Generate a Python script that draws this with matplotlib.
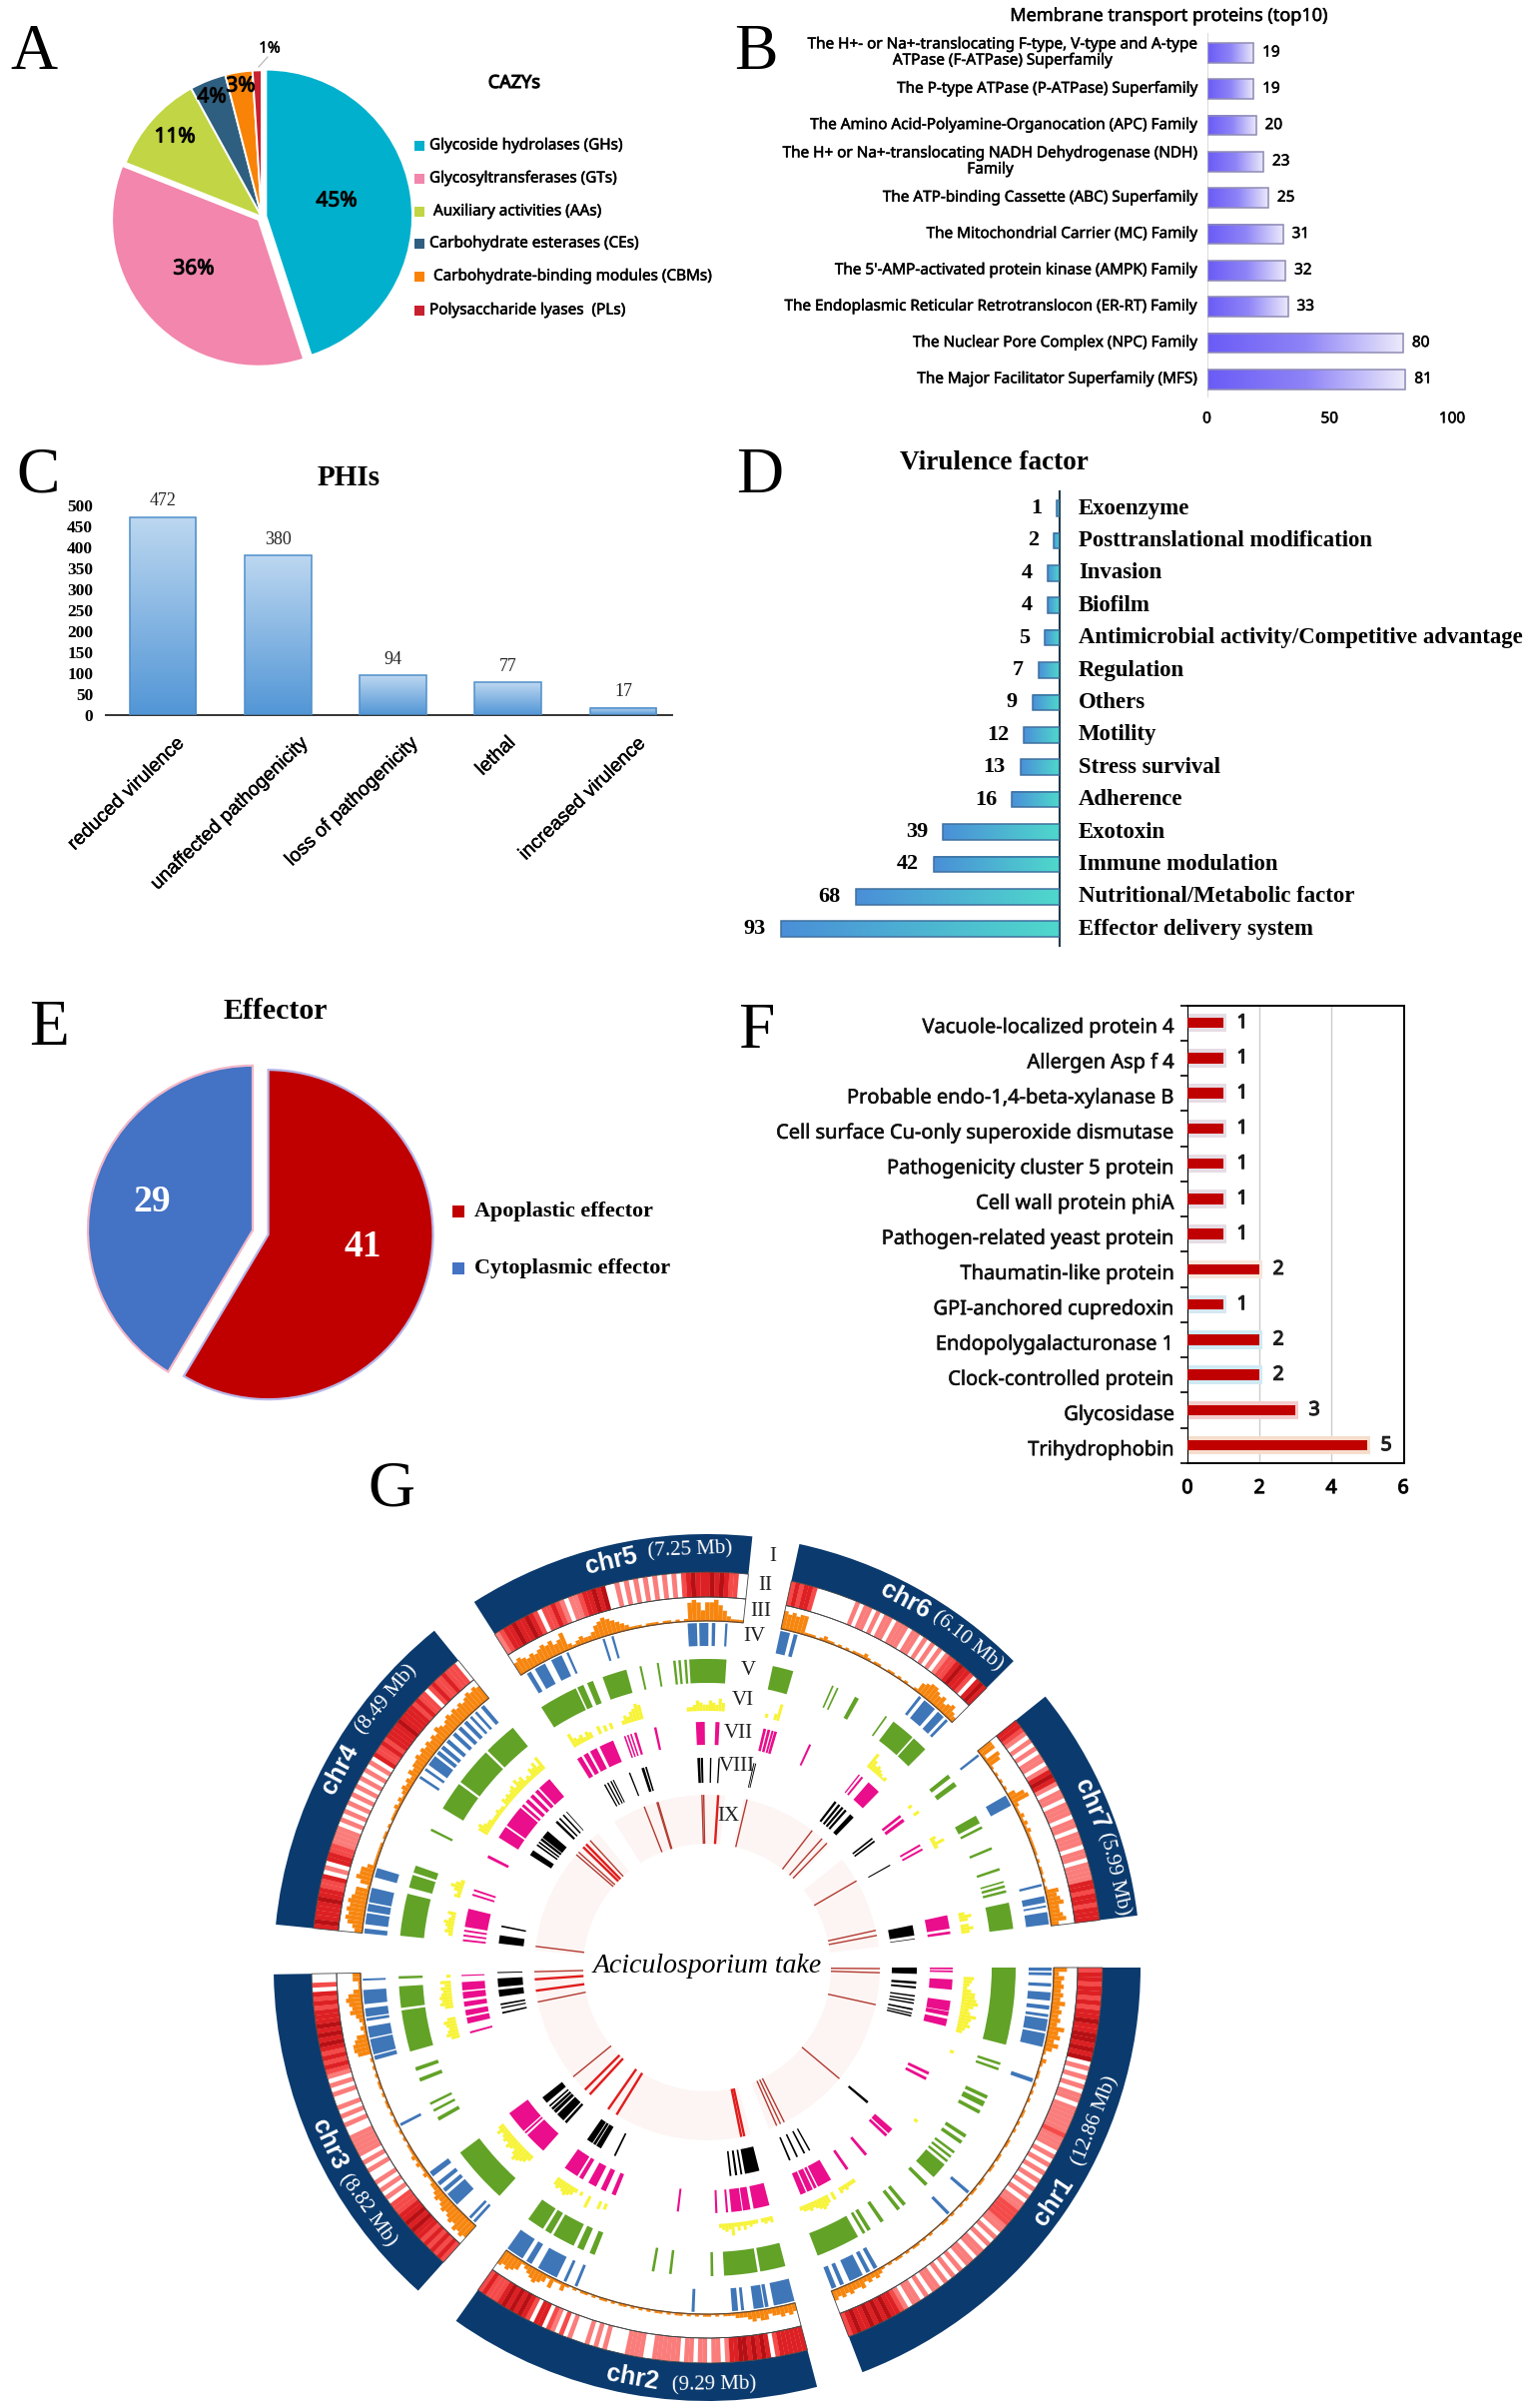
import numpy as np
import matplotlib
matplotlib.use("Agg")
import matplotlib.pyplot as plt
import matplotlib.patheffects as pe
from matplotlib.collections import LineCollection, PatchCollection
from matplotlib.colors import LinearSegmentedColormap
from matplotlib.patches import Rectangle, Wedge

W, H = 1535, 2411
SANS = "Noto Sans"
SERIF = "Liberation Serif"
ARIAL = "Liberation Sans"
# Noto Sans only comes in one weight here, thicken it with a stroke
SEMI = [pe.withStroke(linewidth=.4, foreground="#111111")]
BOLD = [pe.withStroke(linewidth=.8, foreground="#111111")]

# panel A
CAZY_NAMES = ["Glycoside hydrolases (GHs)", "Glycosyltransferases (GTs)", "Auxiliary activities (AAs)",
              "Carbohydrate esterases (CEs)", "Carbohydrate-binding modules (CBMs)", "Polysaccharide lyases  (PLs)"]
CAZY_PCT = [45, 36, 11, 4, 3, 1]
CAZY_COLORS = ["#00b0cc", "#f286ac", "#c2d544", "#2f5f80", "#f98306", "#c8202f"]

# panel B
MEMBRANE_NAMES = ["The H+- or Na+-translocating F-type, V-type and A-type\nATPase (F-ATPase) Superfamily",
                  "The P-type ATPase (P-ATPase) Superfamily",
                  "The Amino Acid-Polyamine-Organocation (APC) Family",
                  "The H+ or Na+-translocating NADH Dehydrogenase (NDH)\nFamily",
                  "The ATP-binding Cassette (ABC) Superfamily",
                  "The Mitochondrial Carrier (MC) Family",
                  "The 5'-AMP-activated protein kinase (AMPK) Family",
                  "The Endoplasmic Reticular Retrotranslocon (ER-RT) Family",
                  "The Nuclear Pore Complex (NPC) Family",
                  "The Major Facilitator Superfamily (MFS)"]
MEMBRANE_VALUES = [19, 19, 20, 23, 25, 31, 32, 33, 80, 81]

# panel C
PHI_NAMES = ["reduced virulence", "unaffected pathogenicity", "loss of pathogenicity", "lethal", "increased virulence"]
PHI_VALUES = [472, 380, 94, 77, 17]

# panel D
VIR_NAMES = ["Exoenzyme", "Posttranslational modification", "Invasion", "Biofilm",
             "Antimicrobial activity/Competitive advantage", "Regulation", "Others", "Motility",
             "Stress survival", "Adherence", "Exotoxin", "Immune modulation",
             "Nutritional/Metabolic factor", "Effector delivery system"]
VIR_VALUES = [1, 2, 4, 4, 5, 7, 9, 12, 13, 16, 39, 42, 68, 93]

# panel E
EFFECTOR_NAMES = ["Apoplastic effector", "Cytoplasmic effector"]
EFFECTOR_VALUES = [41, 29]

# panel F
PROTEIN_NAMES = ["Vacuole-localized protein 4", "Allergen Asp f 4", "Probable endo-1,4-beta-xylanase B",
                 "Cell surface Cu-only superoxide dismutase", "Pathogenicity cluster 5 protein",
                 "Cell wall protein phiA", "Pathogen-related yeast protein", "Thaumatin-like protein",
                 "GPI-anchored cupredoxin", "Endopolygalacturonase 1", "Clock-controlled protein",
                 "Glycosidase", "Trihydrophobin"]
PROTEIN_VALUES = [1, 1, 1, 1, 1, 1, 1, 2, 1, 2, 2, 3, 5]

# panel G, positions are percent along each chromosome
CHR_NAMES = ["chr1", "chr2", "chr3", "chr4", "chr5", "chr6", "chr7"]
CHR_SIZES = ["(12.86 Mb)", "(9.29 Mb)", "(8.82 Mb)", "(8.49 Mb)", "(7.25 Mb)", "(6.10 Mb)", "(5.99 Mb)"]
CHR_START = [0, 75.3, 131.8, 185.7, 237.5, 282.3, 321.3]
CHR_END = [69, 125.4, 179.1, 231, 276, 315, 353.1]

# heat level per bin: 0 white, 1 salmon, 2 red, 3 deep red, 4 darkest
HEAT = ["23323323233433443434" "01010101101" "111112111" "01010101010101" "122221"
        "101010110110101010110101101" "2334343433432",
        "3333332" "0" "343434433" "1011011011011" "1111" "00" "1111" "0000" "10101" "000" "1" "0"
        "201203302" "3434343" "22232",
        "23232323343433222" "010101001010111110010101001010" "1232323434343332323" "0200",
        "343333433223" "010" "3322" "1111" "01010101010101010" "322323333433332322" "0" "2322322" "20",
        "12" "33433432" "0" "22321" "0" "11233434" "00" "10101010101010" "23433343432" "200",
        "232332" "000000000" "101101011011101101010101" "2234332" "0" "343",
        "3321010101101343" "1011011101101110" "1101111332332333"]

ORANGE = ["52434343534343645353" "1021011010" "1010011010" "1001100110" "1100110110" "1010010110"
          "0010101101" "0110101" "2323243343434",
          "343433244343222" "1110101101" "0101101011" "0101010110" "10110101" "10101" "3" "1" "1" "4" "1"
          "3454321" "45656",
          "676756545434322" "1121121211" "1010101101" "0110101101" "01010" "56654" "1212" "354565" "3" "1133",
          "34676767655" "1" "46553" "11111101101011" "1212123232" "4344545454" "5465456565" "6567676",
          "565454" "565645" "7" "21232" "235676543" "211101110110101" "787477864" "2111",
          "767677" "1" "1101211010" "1011121011" "0011010100" "1" "456654534532",
          "66165" "10101010" "3672" "112121211111101011010" "1" "545644563"]

YELLOW = ["000" "543246678645865643" "000000" "2" "000000000000000000000000" "2"
          "000000000000000000000000000" "22232300404565434332",
          "323202" "232424263432" "00000000000000000000000000000000000000" "3" "0" "4" "000" "6" "00" "2" "0"
          "24565454",
          "0" "356786456454353" "00000000000000000000000000000000" "4654564" "000" "465654535" "0" "2" "0",
          "00" "24345324" "00000" "324642" "00000000000000000" "5643322232" "2143434536" "4523254637",
          "00" "7434243" "00" "4" "030" "3" "000" "2435687" "00000000000000" "223543354364" "000",
          "0" "2" "00" "38" "0000000000000000000000000000000000" "85343212" "00",
          "2" "00" "3" "000000000" "3262" "00000000000000000000000" "36404640"]

BLUE_CHR1 = [(0, .8), (1.2, 1.9), (3.8, 4.6), (6, 8), (9.2, 10.2), (11.3, 12), (12.5, 15.5), (16, 19.3), (27.2, 28.2),
             (58.6, 59.4), (65.6, 66.4), (87.5, 88.5), (89.5, 90.5), (91.5, 95), (96.5, 97.5), (98.5, 99.7)]
BLUE_CHR2 = [(0, 7), (8.8, 10), (10.4, 13.8), (17, 18), (19, 21), (33.5, 34.5), (73.5, 74.5), (77.5, 78.5), (81, 88),
             (90.5, 92.5), (94, 100)]
BLUE_CHR3 = [(1, 2), (3, 4), (10, 15), (16, 17.5), (19, 20.5), (23, 25), (44, 45), (69, 70.5), (71, 76.5), (77, 81),
             (83, 84), (84.5, 87.5), (89, 94), (97.3, 98)]
BLUE_CHR4 = [(0, 1.8), (3.4, 7.5), (8.2, 11), (11.6, 17), (21, 24.5), (61, 62), (64.5, 65.5), (67, 71), (72, 73.5),
             (74.5, 76), (77.5, 79), (81, 82.5), (84, 85.5), (87, 88.5), (90, 91), (92.5, 93.5), (95.5, 97)]
BLUE_CHR5 = [(2.5, 4.5), (6.5, 11.5), (14.5, 19.5), (21.8, 22.8), (38.5, 39.5), (42.5, 43.5), (76, 80), (81, 85),
             (86.5, 88), (92.3, 93.3)]
BLUE_CHR6 = [(0, 5), (7, 9), (78.5, 80), (82, 89), (91, 95), (96.5, 98)]
BLUE_CHR7 = [(1.5, 2.8), (27.5, 33.5), (77.5, 78.8), (84, 87.5), (89, 90), (92.5, 99)]

GREEN_CHR1 = [(0, 21), (26, 26.7), (27.5, 28.2), (35.5, 36.5), (37.3, 38.8), (40, 41), (47.5, 48.5), (49.5, 50.5),
              (53, 53.7), (54.5, 55.2), (56, 56.7), (57.5, 62), (64.3, 65.3), (72.3, 73.3), (74.3, 75.3), (79.8, 80.8),
              (84, 85), (85.7, 86.5), (88, 100)]
GREEN_CHR2 = [(0, 9.5), (10.5, 23), (27, 28), (42.5, 43.5), (49, 50), (72, 74), (76.5, 79), (80.5, 89), (90, 92.5),
              (93.5, 100)]
GREEN_CHR3 = [(1, 24), (39, 40.5), (43, 44), (46, 47), (56, 57.5), (60.5, 62), (68.5, 85), (86, 94.5), (97.5, 98.5)]
GREEN_CHR4 = [(.5, 18), (20.6, 26), (27, 30), (45.5, 46.5), (56, 68), (69, 85), (86, 100)]
GREEN_CHR5 = [(0, 19), (19.8, 23), (25, 28), (33, 45), (51.5, 52.5), (60, 61), (68, 69.2), (70.5, 71.7), (73.4, 74.6),
              (75.8, 93.8)]
GREEN_CHR6 = [(0, 12), (35.5, 36.5), (38.5, 39.5), (50, 52.5), (70.5, 71.5), (76, 90), (91, 100)]
GREEN_CHR7 = [(0, 2.5), (5.5, 8.5), (29, 34), (36, 37.5), (49.5, 51), (62.5, 64), (70.5, 71.5), (73, 74.5), (76, 77.5),
              (83.5, 99)]

MAGENTA_CHR1 = [(0, .6), (1, 1.6), (4, 7.5), (11.3, 14.8), (15, 16.5), (17.5, 20), (36.5, 37.5), (38.5, 39.5),
                (59.5, 61.5), (62, 63), (71.5, 72.5), (79.5, 80.5), (86.5, 91.5), (92, 93), (93.5, 95.5), (96, 98)]
MAGENTA_CHR2 = [(0, 7.5), (9, 12.5), (13, 18), (19.5, 20.5), (24.5, 25.5), (42.5, 43.5), (73, 75), (78, 80.5), (83, 87),
                (90, 92), (93, 100)]
MAGENTA_CHR3 = [(0, 11), (12, 13), (13.7, 25), (69, 70), (74, 77), (78, 80.8), (82.5, 85), (86.5, 89.8), (90.6, 94.7),
                (97.7, 98.3)]
MAGENTA_CHR4 = [(1, 2), (3.5, 4.5), (6, 7), (8.5, 18), (25, 26), (27.5, 28.5), (46, 47.5), (58, 64.5), (65.5, 77),
                (78, 79.5), (81, 83), (84.5, 86.5), (88, 90), (91, 98)]
MAGENTA_CHR5 = [(1.5, 4.5), (6, 9), (10.5, 15), (17, 26), (33, 34), (35, 36), (37, 38), (39.5, 41), (52, 53.5),
                (77.6, 83), (89.5, 92)]
MAGENTA_CHR6 = [(3, 5), (6, 8), (9, 10.5), (11, 13), (37.5, 39), (79, 80), (81.5, 83), (88, 98)]
MAGENTA_CHR7 = [(1, 3), (4.5, 7), (27, 28.5), (30.5, 32), (83, 93), (95, 97)]

BLACK_CHR1 = [(0, 2.5), (5.5, 6.5), (7.5, 8.3), (11, 11.6), (12.6, 13.2), (13.9, 14.5), (16.3, 17), (18, 18.5),
              (19, 19.6), (57.5, 58.5), (87.7, 88.3), (90, 90.7), (93.2, 93.9), (96.4, 97.1)]
BLACK_CHR2 = [(.5, 8.5), (10, 11), (12.8, 14), (16, 17), (81, 82), (90, 93), (93.5, 95), (95.5, 99)]
BLACK_CHR3 = [(.5, 2), (3, 8), (9, 11), (11.5, 13), (14, 15), (17, 21), (75, 76), (78, 78.8), (80, 81), (85, 89),
              (90.6, 95.6), (98.7, 99.3)]
BLACK_CHR4 = [(2, 7), (12, 13), (59, 62.5), (66, 67), (68, 69), (70, 71.5), (72, 77), (84, 85.5), (87, 88), (90, 91),
              (93, 93.5)]
BLACK_CHR5 = [(8, 9), (10.5, 11.5), (13, 14), (15, 15.8), (27.5, 28.5), (37, 39), (39.8, 41), (77.5, 79.5), (80, 81.5),
              (86.5, 87.5), (92.5, 93.5)]
BLACK_CHR6 = [(1.5, 2.3), (3, 3.8), (77, 79), (81, 83), (84.5, 86.5), (88, 90), (94, 98)]
BLACK_CHR7 = [(1.5, 3), (4.5, 6), (29.3, 30.3), (85, 94), (96.7, 97.3)]

BLUE = [BLUE_CHR1, BLUE_CHR2, BLUE_CHR3, BLUE_CHR4, BLUE_CHR5, BLUE_CHR6, BLUE_CHR7]
GREEN = [GREEN_CHR1, GREEN_CHR2, GREEN_CHR3, GREEN_CHR4, GREEN_CHR5, GREEN_CHR6, GREEN_CHR7]
MAGENTA = [MAGENTA_CHR1, MAGENTA_CHR2, MAGENTA_CHR3, MAGENTA_CHR4, MAGENTA_CHR5, MAGENTA_CHR6, MAGENTA_CHR7]
BLACK = [BLACK_CHR1, BLACK_CHR2, BLACK_CHR3, BLACK_CHR4, BLACK_CHR5, BLACK_CHR6, BLACK_CHR7]

LINKS = [[.5, 2.5, 18, 58, 92, 94, 96], [], [19, 77.6, 99], [3, 77.5, 80, 92], [29, 40.5, 41.5, 80, 81.5],
         [3.3, 77, 90, 96.7], [27, 82.6, 88]]
LINKS_BRIGHT = [[], [4.5, 6.5, 92.4, 99], [2, 6.7, 85.6, 93.6], [85, 88], [94], [], []]

TRACK_LABELS = ["I", "II", "III", "IV", "V", "VI", "VII", "VIII", "IX"]

heat_colors = ["#ffffff", "#fa7d7b", "#f44b4a", "#dd2023", "#b71014"]

fig = plt.figure(figsize=(W / 100, H / 100), dpi=100, facecolor="white")


def px_axes(x0, y0, x1, y1):
    return fig.add_axes([x0 / W, 1 - y1 / H, (x1 - x0) / W, (y1 - y0) / H])


over = fig.add_axes([0, 0, 1, 1], zorder=10)
over.set_xlim(0, W)
over.set_ylim(H, 0)
over.axis("off")
over.patch.set_alpha(0)


def label(x, y, s, size, family=SANS, weight="normal", ha="center", color="black", **kw):
    return over.text(x, y, s, fontsize=size, family=family, fontweight=weight, ha=ha, va="center", color=color, **kw)


def swatch(x, y, color, size=10):
    over.add_patch(Rectangle((x - size / 2, y - size / 2), size, size, fc=color, ec="none"))


def grad_bar(ax, extent, colors, vertical=False, edge=None):
    cmap = LinearSegmentedColormap.from_list("g", colors)
    ramp = np.linspace(0, 1, 128)
    ramp = ramp.reshape(-1, 1) if vertical else ramp.reshape(1, -1)
    ax.imshow(ramp, extent=extent, cmap=cmap, aspect="auto", zorder=2, vmin=0, vmax=1)
    if edge:
        x0, x1, y0, y1 = extent
        ax.add_patch(Rectangle((x0, y0), x1 - x0, y1 - y0, fc="none", ec=edge, lw=1.1, zorder=3))


def panel_a():
    ax = px_axes(262 - 176, 217 - 176, 262 + 176, 217 + 176)
    ax.pie(CAZY_PCT, colors=CAZY_COLORS, startangle=90, counterclock=False, explode=[.03, .03, 0, 0, 0, 0],
           wedgeprops={"edgecolor": "white", "linewidth": 1.4})
    ax.set_xlim(-1.2, 1.2)
    ax.set_ylim(-1.2, 1.2)
    for x, y, v in zip([337, 194, 175, 212, 241], [201, 269, 137, 97, 86], CAZY_PCT):
        label(x, y, f"{v}%", 15, path_effects=BOLD)
    label(270, 49, f"{CAZY_PCT[5]}%", 11, path_effects=SEMI)
    over.plot([259, 268], [67, 57], color="#a8a8a8", lw=.7)
    label(515, 83, "CAZYs", 13, path_effects=BOLD)
    ys = [146, 179, 212, 244, 277, 311]
    xs = [430, 430, 434, 430, 434, 430]
    for name, color, y, x in zip(CAZY_NAMES, CAZY_COLORS, ys, xs):
        swatch(420, y, color)
        label(x, y, name, 11, ha="left", path_effects=SEMI)
    over.add_patch(Rectangle((717, 262), 30, 30, fc="white", ec="none", zorder=5))


def panel_b():
    ax = px_axes(1208.5, 33, 1454, 397)
    for i, v in enumerate(MEMBRANE_VALUES):
        grad_bar(ax, (0, v, i + .27, i - .27), ["#6a5bf6", "#8f84f7", "#ecebfb"], edge="#8f8cb4")
        ax.annotate(str(v), (v, i), xytext=(9, 0), textcoords="offset pixels", va="center", fontsize=11, family=SANS,
                    path_effects=SEMI)
        ax.annotate(MEMBRANE_NAMES[i], (0, i), xytext=(-9, 0), textcoords="offset pixels", va="center", ha="right",
                    multialignment="center", fontsize=11, family=SANS, linespacing=1.1, annotation_clip=False,
                    path_effects=SEMI)
    ax.set_xlim(0, 100)
    ax.set_ylim(9.47, -.55)
    for s in ["top", "right", "bottom"]:
        ax.spines[s].set_visible(False)
    ax.spines["left"].set_color("#dcdcdc")
    ax.set_yticks([])
    ax.set_xticks([0, 50, 100])
    ax.tick_params(axis="x", length=0, labelsize=11, pad=11)
    for t in ax.get_xticklabels():
        t.set_family(SANS)
        t.set_path_effects(SEMI)
    label(1171, 16, "Membrane transport proteins (top10)", 13, path_effects=SEMI)


def panel_c():
    ax = px_axes(105.6, 506, 673.5, 715.7)
    for i, v in enumerate(PHI_VALUES):
        grad_bar(ax, (i - .29, i + .29, 0, v), ["#bcd7f0", "#5296d6"], vertical=True, edge="#4f8fca")
        ax.annotate(str(v), (i, v), xytext=(0, 16), textcoords="offset pixels", ha="center", va="center",
                    fontsize=13, family=SERIF, color="#222222", annotation_clip=False)
    ax.set_xlim(-.498, 4.43)
    ax.set_ylim(0, 500)
    for s in ["top", "right", "left"]:
        ax.spines[s].set_visible(False)
    ax.spines["bottom"].set_linewidth(1.4)
    ax.spines["bottom"].set_color("#333333")
    ax.set_xticks([])
    ax.set_yticks(np.arange(0, 501, 50))
    ax.tick_params(axis="y", length=0, pad=9)
    for t in ax.get_yticklabels():
        t.set_family(SERIF)
        t.set_fontweight("bold")
        t.set_fontsize(12.5)
    for name, x in zip(PHI_NAMES, [177, 301, 411, 508, 639]):
        over.text(x, 735, name, rotation=44, ha="right", va="top", rotation_mode="anchor",
                  fontsize=14, family=ARIAL, path_effects=[pe.withStroke(linewidth=.3, foreground="black")])
    label(349, 478, "PHIs", 21, family=SERIF, weight="bold")


def panel_d():
    ax = px_axes(761, 491.7, 1061, 946.7)
    for i, v in enumerate(VIR_VALUES):
        grad_bar(ax, (v, 0, i + .24, i - .24), ["#4a8fd8", "#4fd8cc"], edge="#3f709e")
        ax.annotate(str(v), (v, i), xytext=(-15, 0), textcoords="offset pixels", ha="right", va="center",
                    fontsize=16, family=SERIF, fontweight="bold")
        ax.annotate(VIR_NAMES[i], (0, i), xytext=(19, 0), textcoords="offset pixels", va="center",
                    fontsize=16.4, family=SERIF, fontweight="bold", annotation_clip=False)
    ax.set_xlim(100, 0)
    ax.set_ylim(13.51, -.537)
    for s in ["top", "left", "bottom"]:
        ax.spines[s].set_visible(False)
    ax.spines["right"].set_color("#1f3a4d")
    ax.spines["right"].set_linewidth(1.5)
    ax.set_xticks([])
    ax.set_yticks([])
    label(995, 463, "Virulence factor", 19.6, family=SERIF, weight="bold")


def panel_e():
    size = 198
    ax = px_axes(260.8 - size, 1234 - size, 260.8 + size, 1234 + size)
    wedges, _ = ax.pie(EFFECTOR_VALUES, colors=["#c00000", "#4472c4"], startangle=90, counterclock=False,
                       explode=[.049, .049], wedgeprops={"linewidth": 1.6})
    wedges[0].set_edgecolor("#b8b8ea")
    wedges[1].set_edgecolor("#f2b8c8")
    ax.set_xlim(-1.2, 1.2)
    ax.set_ylim(-1.2, 1.2)
    label(363, 1248, str(EFFECTOR_VALUES[0]), 27, family=SERIF, weight="bold", color="white")
    label(152, 1203, str(EFFECTOR_VALUES[1]), 27, family=SERIF, weight="bold", color="white")
    for name, color, y in zip(EFFECTOR_NAMES, ["#c00000", "#4472c4"], [1213, 1270]):
        swatch(459, y, color, 12)
        label(475, y, name, 15.9, family=SERIF, weight="bold", ha="left")
    label(275.5, 1012, "Effector", 21.5, family=SERIF, weight="bold")


def panel_f():
    ax = px_axes(1189, 1006.5, 1405.8, 1464.8)
    glow = ["#e6dce4"] * 7 + ["#f6e6da", "#d6e8f0", "#cfeaf4", "#cfeaf4", "#f4cccc", "#f6ddcc"]
    ax.set_axisbelow(True)
    ax.grid(axis="x", color="#cccccc", lw=1)
    ax.barh(range(13), np.array(PROTEIN_VALUES) + .08, height=.52, color=glow, left=0, zorder=2)
    ax.barh(range(13), PROTEIN_VALUES, height=.3, color="#c00000", zorder=3)
    for i, v in enumerate(PROTEIN_VALUES):
        ax.annotate(str(v), (v, i), xytext=(19, 0), textcoords="offset pixels", ha="center", va="center",
                    fontsize=14, family=SANS, color="#222222", path_effects=BOLD)
        ax.annotate(PROTEIN_NAMES[i], (0, i), xytext=(-13, -5), textcoords="offset pixels", ha="right", va="center",
                    fontsize=14.4, family=SANS, color="#111111", annotation_clip=False, path_effects=SEMI)
    ax.set_xlim(0, 6.02)
    ax.set_ylim(12.45, -.494)
    ax.set_xticks([0, 2, 4, 6])
    ax.set_yticks(np.arange(-.5, 13))
    ax.set_yticklabels([])
    ax.tick_params(axis="y", length=5, width=1.2)
    ax.tick_params(axis="x", length=0, pad=11, labelsize=14)
    for t in ax.get_xticklabels():
        t.set_family(SANS)
        t.set_path_effects(BOLD)
    for s in ax.spines.values():
        s.set_linewidth(1.4)
    ax.spines["left"].set_linewidth(.8)


def spans_to_wedges(spans, t0, t1, r_in, r_out):
    out = []
    for a, b in spans:
        out.append(Wedge((0, 0), r_out, t0 + (t1 - t0) * a / 100, t0 + (t1 - t0) * b / 100, width=r_out - r_in))
    return out


def add_wedges(ax, wedges, color, z=2):
    ax.add_collection(PatchCollection(wedges, facecolor=color, edgecolor="none", linewidths=0, zorder=z))


def bins_to_wedges(levels, t0, t1, r_in, scale):
    step = (t1 - t0) / len(levels)
    out = []
    for i, c in enumerate(levels):
        if c != "0":
            out.append(Wedge((0, 0), r_in + int(c) * scale, t0 + i * step, t0 + (i + 1) * step, width=int(c) * scale))
    return out


def panel_g():
    ax = px_axes(708 - 440, 1970 - 440, 708 + 440, 1970 + 440)
    ax.set_xlim(-440, 440)
    ax.set_ylim(440, -440)
    ax.axis("off")
    for k, (t0, t1) in enumerate(zip(CHR_START, CHR_END)):
        add_wedges(ax, [Wedge((0, 0), 173, t0, t1, width=49)], "#fdf5f3", z=1)
        add_wedges(ax, [Wedge((0, 0), 434, t0, t1, width=38)], "#0b3a6e")
        step = (t1 - t0) / len(HEAT[k])
        for level in "1234":
            cells = [Wedge((0, 0), 396, t0 + i * step, t0 + (i + 1) * step + .03, width=25)
                     for i, c in enumerate(HEAT[k]) if c == level]
            add_wedges(ax, cells, heat_colors[int(level)])
        add_wedges(ax, bins_to_wedges(ORANGE[k], t0, t1, 347, 24 / 9), "#f7860f")
        for r, w in [(396, 25), (371, 24)]:
            ax.add_patch(Wedge((0, 0), r, t0, t1, width=w, fc="none", ec="#444444", lw=.6, zorder=3))
        add_wedges(ax, [Wedge((0, 0), 348, t0, t1, width=1.5)], "#c96a10")
        add_wedges(ax, spans_to_wedges(BLUE[k], t0, t1, 322, 345), "#3f76b8")
        add_wedges(ax, spans_to_wedges(GREEN[k], t0, t1, 285, 309), "#62a227")
        add_wedges(ax, bins_to_wedges(YELLOW[k], t0, t1, 257, 2.1), "#f7f337")
        add_wedges(ax, spans_to_wedges(MAGENTA[k], t0, t1, 223, 246), "#ea0d8c")
        add_wedges(ax, spans_to_wedges(BLACK[k], t0, t1, 185, 210), "black")
        for pos, color, lw in [(LINKS[k], "#b23a32", 1.0), (LINKS_BRIGHT[k], "#e01c1c", 1.7)]:
            ang = np.radians(t0 + (t1 - t0) * np.array(pos, dtype=float) / 100)
            segs = [[(124 * np.cos(a), 124 * np.sin(a)), (173 * np.cos(a), 173 * np.sin(a))] for a in ang]
            ax.add_collection(LineCollection(segs, colors=color, linewidths=lw, zorder=3))

    name_angles = [34, 100.3, 155, 208.3, 256.8, 298.4, 337]
    size_angles = [21.6, 89, 144.5, 219.9, 267.7, 308.5, 347]
    for name, size, a, b in zip(CHR_NAMES, CHR_SIZES, name_angles, size_angles):
        for s, ang, fam, fs, wt in [(name, a, ARIAL, 18, "bold"), (size, b, SERIF, 15, "normal")]:
            rot = 90 - ang if ang < 180 else 270 - ang
            x = 708 + 418 * np.cos(np.radians(ang))
            y = 1970 + 418 * np.sin(np.radians(ang))
            over.text(x, y, s, rotation=rot, rotation_mode="anchor", ha="center", va="center", color="white",
                      fontsize=fs, family=fam, fontweight=wt)

    xs = [774, 766, 762, 755, 749, 744, 739, 738, 729]
    ys = [1558, 1587, 1613, 1638, 1672, 1702, 1735, 1768, 1818]
    for s, x, y in zip(TRACK_LABELS, xs, ys):
        label(x, y, s, 15, family=SERIF, color="#222222")
    label(708, 1968, "Aciculosporium take", 20, family=SERIF, style="italic")


def main():
    panel_a()
    panel_b()
    panel_c()
    panel_d()
    panel_e()
    panel_f()
    panel_g()
    letters = ["A", "B", "C", "D", "E", "F", "G"]
    lx = [34, 757, 38, 761, 49, 757, 392]
    ly = [53, 53, 477, 477, 1030, 1033, 1492]
    for s, x, y in zip(letters, lx, ly):
        label(x, y, s, 47, family=SERIF)
    fig.savefig("out.png", dpi=100)


if __name__ == "__main__":
    main()
